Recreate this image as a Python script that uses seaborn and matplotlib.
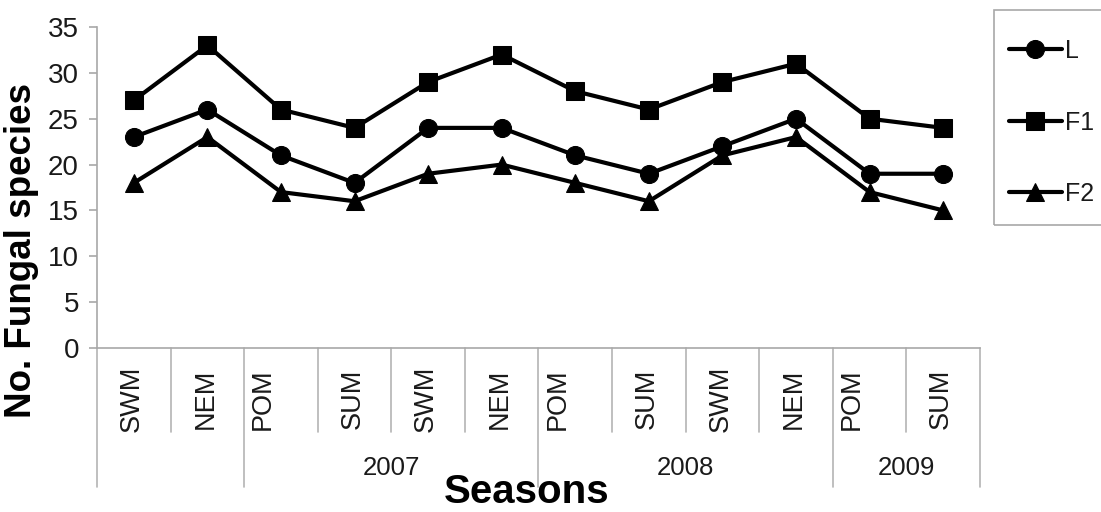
import numpy as np
import pandas as pd
import matplotlib
matplotlib.use("Agg")
import matplotlib.pyplot as plt
import matplotlib.transforms as mtransforms
from matplotlib.patches import Rectangle
import seaborn as sns

# Sampling seasons along the x axis, grouped by year
seasons = ["SWM", "NEM", "POM", "SUM", "SWM", "NEM", "POM", "SUM", "SWM", "NEM", "POM", "SUM"]
year_labels = ["", "2007", "2008", "2009"]
year_group_sizes = [2, 4, 4, 2]

# Number of fungal species recorded per season
series_names = ["L", "F1", "F2"]
L_counts = [23, 26, 21, 18, 24, 24, 21, 19, 22, 25, 19, 19]
F1_counts = [27, 33, 26, 24, 29, 32, 28, 26, 29, 31, 25, 24]
F2_counts = [18, 23, 17, 16, 19, 20, 18, 16, 21, 23, 17, 15]

yticks = [0, 5, 10, 15, 20, 25, 30, 35]

sns.set_theme(style="white")
plt.rcParams["font.family"] = ["Liberation Sans", "DejaVu Sans"]

df = pd.DataFrame({
    "pos": list(range(len(seasons))) * 3,
    "count": L_counts + F1_counts + F2_counts,
    "series": [n for n in series_names for _ in seasons],
})

fig = plt.figure(figsize=(11.01, 5.12), dpi=100)
W, H = 1101, 512
left, right, top, bottom = 97, 980, 27, 348
ax = fig.add_axes([left / W, 1 - bottom / H, (right - left) / W, (bottom - top) / H])

sns.lineplot(
    data=df, x="pos", y="count", hue="series", style="series",
    hue_order=series_names, style_order=series_names,
    palette=["black"] * 3, markers={"L": "o", "F1": "s", "F2": "^"},
    dashes=False, linewidth=3.0, markersize=13, markeredgecolor="black",
    legend=False, ax=ax, clip_on=False,
)
series_lines = list(ax.lines[:3])

ax.set_xlim(-0.5, len(seasons) - 0.5)
ax.set_ylim(0, 35)
ax.set_yticks(yticks)
ax.set_yticklabels([str(t) for t in yticks], fontsize=20, color="#1a1a1a")
ax.tick_params(axis="y", which="major", left=True, length=6, width=1.2, color="#a8a8a8", pad=7)
ax.set_xticks([])

for s in ["top", "right"]:
    ax.spines[s].set_visible(False)
for s in ["left", "bottom"]:
    ax.spines[s].set_color("#a8a8a8")
    ax.spines[s].set_linewidth(1.2)

# Category separators below the axis: short ones between seasons, long ones between years
trans = mtransforms.blended_transform_factory(ax.transData, ax.transAxes)
ax_h = bottom - top
short_end = -(432 - bottom) / ax_h
long_end = -(487 - bottom) / ax_h
group_edges = np.cumsum([0] + year_group_sizes)
for b in range(len(seasons) + 1):
    end = long_end if b in group_edges else short_end
    ax.plot([b - 0.5, b - 0.5], [0, end], transform=trans, color="#b4b4b4",
            linewidth=1.2, clip_on=False)

# Season labels
season_y = -(399 - bottom) / ax_h
for i, name in enumerate(seasons):
    dx = -18 if name == "POM" else -2
    ax.annotate(name, xy=(i, season_y), xycoords=trans, xytext=(dx, 0),
                textcoords="offset pixels", rotation=90, ha="center", va="center",
                fontsize=19.5, color="#1a1a1a", annotation_clip=False)

# Year labels centred under each group
year_y = -(468 - bottom) / ax_h
for k, yl in enumerate(year_labels):
    if yl:
        cx = (group_edges[k] + group_edges[k + 1]) / 2 - 0.5
        ax.text(cx, year_y, yl, transform=trans, ha="center", va="center",
                fontsize=18.5, color="#1a1a1a")

ax.set_xlabel("Seasons", fontsize=29, fontweight="bold", color="black")
ax.xaxis.set_label_coords((527 - left) / (right - left), -(503 - bottom) / ax_h)
ax.xaxis.label.set_va("baseline")

ax.set_ylabel("No. Fungal species", fontsize=26.5, fontweight="bold", color="black")
ax.yaxis.set_label_coords((22 - left) / (right - left), (bottom - 250) / ax_h)
ax.yaxis.label.set_va("center")

# Legend box (runs past the right edge of the figure)
fig.patches.append(Rectangle((994 / W, 1 - 225 / H), 130 / W, 215 / H,
                             transform=fig.transFigure, facecolor="none",
                             edgecolor="#a8a8a8", linewidth=1.2, zorder=0))
leg = ax.legend(
    series_lines, series_names, loc="upper left",
    bbox_to_anchor=(1009 / W, 1 - 39 / H), bbox_transform=fig.transFigure,
    fontsize=18, frameon=False, borderpad=0, labelspacing=1.9,
    handlelength=2.1, handletextpad=0.15, borderaxespad=0,
)
for t in leg.get_texts():
    t.set_color("#1a1a1a")

fig.savefig("out.png", dpi=100)
